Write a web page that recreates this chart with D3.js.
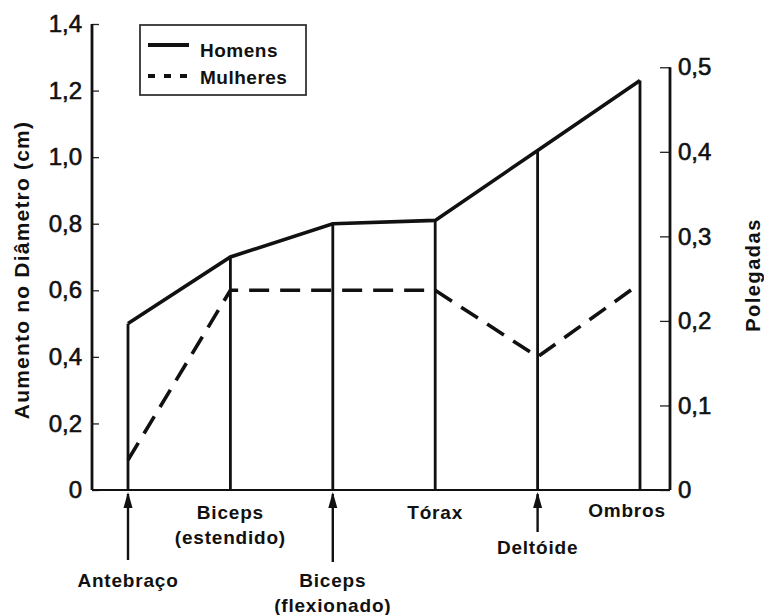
<!DOCTYPE html>
<html>
<head>
<meta charset="utf-8">
<script src="https://cdn.jsdelivr.net/npm/d3@7"></script>
<style>
  body { margin: 0; background: #fff; }
  text { font-family: "Liberation Sans", Arial, sans-serif; fill: #111; font-weight: bold; }
</style>
</head>
<body>
<div id="chart"></div>
<script>
// data
var categories = ["Antebraço", "Biceps (estendido)", "Biceps (flexionado)", "Tórax", "Deltóide", "Ombros"];
var labelLines = [["Antebraço"], ["Biceps", "(estendido)"], ["Biceps", "(flexionado)"], ["Tórax"], ["Deltóide"], ["Ombros"]];
var homens = [0.5, 0.7, 0.8, 0.81, 1.02, 1.23];
var mulheres = [0.09, 0.6, 0.6, 0.6, 0.4, 0.62];
var hasArrow = [true, false, true, false, true, false];
var cmTicks = [0, 0.2, 0.4, 0.6, 0.8, 1.0, 1.2, 1.4];
var inchTicks = [0, 0.1, 0.2, 0.3, 0.4, 0.5];

var width = 764, height = 615;
var margin = { top: 24, left: 92, right: 94, bottom: 125 };

var svg = d3.select("#chart").append("svg")
  .attr("width", width)
  .attr("height", height);

var x = d3.scalePoint().domain(categories).range([128, 640]);
var y = d3.scaleLinear().domain([0, 1.4]).range([height - margin.bottom, margin.top]);
var yIn = d3.scaleLinear().domain([0, 0.5]).range([y(0), y(0.5 * 2.54)]);

var comma = function(d) { return d === 0 ? "0" : d3.format(".1f")(d).replace(".", ","); };

var xLeft = margin.left, xRight = width - margin.right;

// left axis
var gl = svg.append("g")
  .attr("transform", "translate(" + xLeft + ",0)")
  .call(d3.axisLeft(y).tickValues(cmTicks).tickSize(-7).tickPadding(10).tickFormat(comma));
gl.select(".domain").remove();
gl.selectAll(".tick line").attr("stroke", "#222").attr("stroke-width", 1.3);
gl.selectAll(".tick text").style("font-size", "24px").style("font-weight", "normal")
  .attr("stroke", "#111").attr("stroke-width", 0.6).attr("fill", "#111");
svg.append("line").attr("x1", xLeft).attr("x2", xLeft)
  .attr("y1", y(1.4)).attr("y2", y(0))
  .attr("stroke", "#111").attr("stroke-width", 2.8);

// right axis
var gr = svg.append("g")
  .attr("transform", "translate(" + xRight + ",0)")
  .call(d3.axisRight(yIn).tickValues(inchTicks).tickSize(-10).tickPadding(8).tickFormat(comma));
gr.select(".domain").remove();
gr.selectAll(".tick line").attr("stroke", "#222").attr("stroke-width", 1.3);
gr.selectAll(".tick text").style("font-size", "24px").style("font-weight", "normal")
  .attr("stroke", "#111").attr("stroke-width", 0.6).attr("fill", "#111");
svg.append("line").attr("x1", xRight).attr("x2", xRight)
  .attr("y1", yIn(0.5)).attr("y2", y(0))
  .attr("stroke", "#111").attr("stroke-width", 2.8);

// baseline
svg.append("line").attr("x1", xLeft).attr("x2", xRight)
  .attr("y1", y(0)).attr("y2", y(0))
  .attr("stroke", "#111").attr("stroke-width", 2);

// axis titles
svg.append("text")
  .attr("transform", "translate(29,270) rotate(-90)")
  .attr("text-anchor", "middle")
  .style("font-size", "21px")
  .style("letter-spacing", "1.2px")
  .text("Aumento no Diâmetro (cm)");
svg.append("text")
  .attr("transform", "translate(760,275) rotate(-90)")
  .attr("text-anchor", "middle")
  .style("font-size", "20px")
  .style("letter-spacing", "1.5px")
  .text("Polegadas");

// vertical lines up to men's value
svg.selectAll(".vline")
  .data(categories)
  .enter().append("line")
  .attr("class", "vline")
  .attr("x1", function(d) { return x(d); })
  .attr("x2", function(d) { return x(d); })
  .attr("y1", y(0))
  .attr("y2", function(d, i) { return y(homens[i]); })
  .attr("stroke", "#111").attr("stroke-width", 2.8);

// men solid line
var line = d3.line()
  .x(function(d, i) { return x(categories[i]); })
  .y(function(d) { return y(d); });

svg.append("path").datum(homens)
  .attr("d", line)
  .attr("fill", "none").attr("stroke", "#111").attr("stroke-width", 3.6);

// women dashed line
svg.append("path").datum(mulheres)
  .attr("d", line)
  .attr("fill", "none").attr("stroke", "#111").attr("stroke-width", 3.6)
  .attr("stroke-dasharray", "20,11");

// arrows under axis
var arrowLen = [70, 0, 72, 0, 42, 0];
var arrows = svg.selectAll(".arrow")
  .data(categories.filter(function(d, i) { return hasArrow[i]; }))
  .enter().append("g")
  .attr("class", "arrow")
  .attr("transform", function(d) { return "translate(" + x(d) + "," + y(0) + ")"; });
arrows.append("line")
  .attr("y1", 4)
  .attr("y2", function(d) { return arrowLen[categories.indexOf(d)]; })
  .attr("stroke", "#111").attr("stroke-width", 2.4);
arrows.append("path")
  .attr("d", "M0,2 L-4.5,18 L4.5,18 Z")
  .attr("fill", "#111");

// category labels
var labelTop = [90, 22, 90, 22, 57, 20];
var labels = svg.selectAll(".clabel")
  .data(categories)
  .enter().append("text")
  .attr("class", "clabel")
  .attr("text-anchor", "middle")
  .style("font-size", "19px")
  .style("letter-spacing", "0.8px")
  .attr("y", function(d, i) { return y(0) + labelTop[i] + 7; });
labels.selectAll("tspan")
  .data(function(d, i) { return labelLines[i].map(function(t) { return { t: t, x: x(d) + (i === 5 ? -13 : 0) }; }); })
  .enter().append("tspan")
  .attr("x", function(d) { return d.x; })
  .attr("dy", function(d, j) { return j === 0 ? 0 : 25; })
  .text(function(d) { return d.t; });

// legend
var lg = svg.append("g").attr("transform", "translate(140,25)");
lg.append("rect")
  .attr("width", 166).attr("height", 70)
  .attr("fill", "#fff").attr("stroke", "#333").attr("stroke-width", 1.8);
lg.append("line").attr("x1", 8).attr("x2", 49).attr("y1", 20).attr("y2", 20)
  .attr("stroke", "#111").attr("stroke-width", 4);
lg.append("line").attr("x1", 8).attr("x2", 49).attr("y1", 51).attr("y2", 51)
  .attr("stroke", "#111").attr("stroke-width", 4).attr("stroke-dasharray", "7,9");
lg.append("text").attr("x", 60).attr("y", 32).style("font-size", "19px").style("letter-spacing", "0.5px").text("Homens");
lg.append("text").attr("x", 60).attr("y", 59).style("font-size", "19px").style("letter-spacing", "0.5px").text("Mulheres");
</script>
</body>
</html>
